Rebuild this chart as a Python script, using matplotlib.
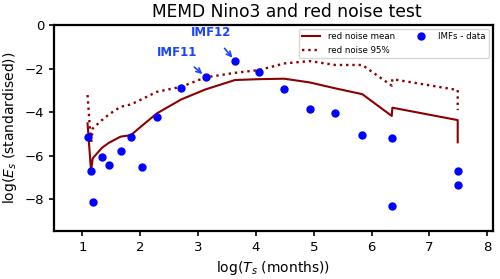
import matplotlib.pyplot as plt
import numpy as np

# log periods of the IMFs (and red noise), log energies
log_T = [1.09, 1.15, 1.18, 1.34, 1.46, 1.66, 1.84, 2.03, 2.29, 2.71, 3.13,
         3.64, 4.06, 4.49, 4.93, 5.37, 5.84, 6.35, 6.36, 7.49, 7.49]
imf_E = [-5.12, -6.70, -8.10, -6.04, -6.41, -5.79, -5.12, -6.50, -4.20, -2.88, -2.37,
         -1.64, -2.16, -2.95, -3.87, -4.02, -5.05, -5.17, -8.32, -6.71, -7.34]
rn_mean = [-4.51, -6.68, -6.11, -5.63, -5.40, -5.12, -5.05, -4.62, -4.05, -3.41, -2.95,
           -2.52, -2.48, -2.46, -2.63, -2.90, -3.17, -4.17, -3.79, -4.36, -5.38]
rn_95 = [-3.21, -5.43, -4.74, -4.36, -4.10, -3.75, -3.64, -3.40, -3.06, -2.83, -2.40,
         -2.19, -2.06, -1.76, -1.65, -1.83, -1.83, -2.78, -2.48, -2.98, -3.90]

plt.rcParams['font.family'] = 'DejaVu Sans'

fig = plt.figure(figsize=(5, 2.79), dpi=100)
ax = fig.add_axes([0.108, 0.172, 0.878, 0.738])

ax.plot(log_T, rn_mean, '-', color='darkred', lw=1.5, label='red noise mean')
ax.plot(log_T, rn_95, ':', color='darkred', lw=1.7, label='red noise 95%')
ax.plot(log_T, imf_E, 'o', color='blue', ms=5, label='IMFs - data')

# annotate the two significant IMFs
ax.annotate('IMF11', xy=(log_T[10], imf_E[10]), xytext=(2.64, -1.25),
            color='#1a44ff', fontweight='bold', fontsize=8.5, ha='center', va='center',
            arrowprops=dict(arrowstyle='->', color='#1a44ff', lw=1.2, shrinkA=6, shrinkB=3))
ax.annotate('IMF12', xy=(log_T[11], imf_E[11]), xytext=(3.23, -0.35),
            color='#1a44ff', fontweight='bold', fontsize=8.5, ha='center', va='center',
            arrowprops=dict(arrowstyle='->', color='#1a44ff', lw=1.2, shrinkA=6, shrinkB=3))

ax.set_xlim(0.51, 8.1)
ax.set_ylim(-9.45, 0)
ax.set_xticks([1, 2, 3, 4, 5, 6, 7, 8])
ax.set_yticks([0, -2, -4, -6, -8])
ax.set_xlabel('log($T_s$ (months))', fontsize=10)
ax.set_ylabel('log($E_s$ (standardised))', fontsize=10)
ax.set_title('MEMD Nino3 and red noise test', fontsize=12.3, x=0.53)
ax.tick_params(labelsize=9.5, width=1.2)
for s in ax.spines.values():
    s.set_linewidth(1.6)

ax.legend(loc='upper right', ncol=2, fontsize=6.2, handlelength=2.1,
          borderaxespad=0.45, columnspacing=2.0, handletextpad=0.9)

plt.savefig('out.png', dpi=100)
